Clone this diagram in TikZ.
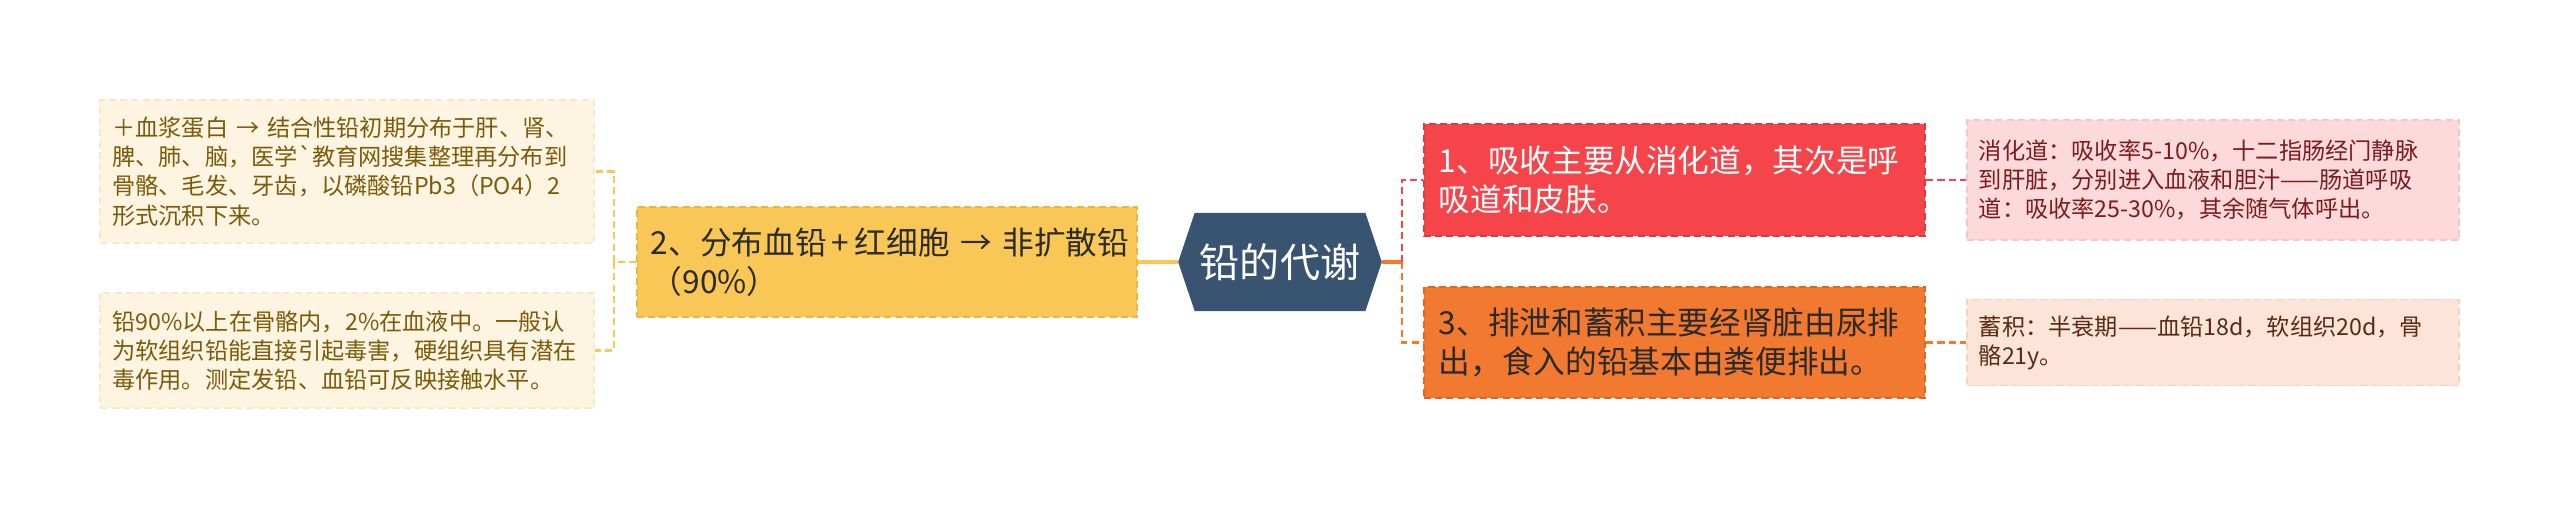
\documentclass[tikz,border=0pt]{standalone}
\usepackage{fontspec}
\setmainfont{Noto Sans CJK SC}
\usetikzlibrary{shapes.symbols}
\definecolor{pbnavy}{HTML}{395470}
\definecolor{pbyellow}{HTML}{F8C755}
\definecolor{pbyellowline}{HTML}{EDB53E}
\definecolor{pbcream}{HTML}{FDF5E1}
\definecolor{pbcreamline}{HTML}{F8E8C6}
\definecolor{pbbrown}{HTML}{7D5A0A}
\definecolor{pbred}{HTML}{F5444A}
\definecolor{pbredline}{HTML}{DD3A40}
\definecolor{pborange}{HTML}{F27930}
\definecolor{pborangeline}{HTML}{E0661F}
\definecolor{pbpink}{HTML}{FCDADB}
\definecolor{pbpinkline}{HTML}{F5C6C8}
\definecolor{pbpeach}{HTML}{FDE4D8}
\definecolor{pbpeachline}{HTML}{F8D2C0}
\definecolor{pbdarkred}{HTML}{7B1C1C}
\definecolor{pbdarkbrown}{HTML}{5A2B12}
\definecolor{pbink}{HTML}{2B2B2B}

\begin{document}
\begin{tikzpicture}[
        x=0.01cm, y=-0.01cm,
        every node/.style={font=\fontsize{6.6pt}{8.3pt}\selectfont},
        hub/.style={
          signal, signal to=west and east, signal pointer angle=143,
          fill=pbnavy, draw=pbnavy, text=white,
          minimum width=2.02cm, minimum height=0.97cm, inner sep=0pt,
          font=\fontsize{11.4pt}{13pt}\selectfont,
        },
        topic/.style={
          dashed, dash pattern=on 2pt off 1.2pt, line width=0.6pt,
          align=left, text width=4.72cm, inner xsep=0.14cm,
          font=\fontsize{9pt}{11.1pt}\selectfont,
        },
        leaf/.style={
          dashed, dash pattern=on 2pt off 1.2pt, line width=0.5pt,
          align=left, text width=4.69cm, inner xsep=0.12cm,
        },
        ylink/.style={draw=pbyellow, line width=0.6pt, dashed, dash pattern=on 2pt off 1.2pt},
        rlink/.style={draw=pbred, line width=0.6pt, dashed, dash pattern=on 2pt off 1.2pt},
        olink/.style={draw=pborange, line width=0.6pt, dashed, dash pattern=on 2pt off 1.2pt},
      ]
      \useasboundingbox (0,0) rectangle (2560,509);

      % centre
      \node[hub] (pb) at (1280,262) {铅的代谢};

      % left branch
      \node[topic, fill=pbyellow, draw=pbyellowline, text=pbink, minimum height=1.10cm]
        (dist) at (887,262) {2、分布血铅\,+\,红细胞~→~非扩散铅\\（90\%）};
      \node[leaf, fill=pbcream, draw=pbcreamline, text=pbbrown, minimum height=1.43cm]
        (bone) at (347,171.5) {＋血浆蛋白 → 结合性铅初期分布于肝、肾、\\脾、肺、脑，医学\textasciigrave 教育网搜集整理再分布到\\骨骼、毛发、牙齿，以磷酸铅Pb3（PO4）2\\形式沉积下来。};
      \node[leaf, fill=pbcream, draw=pbcreamline, text=pbbrown, minimum height=1.15cm]
        (soft) at (347,350.5) {铅90\%以上在骨骼内，2\%在血液中。一般认\\为软组织铅能直接引起毒害，硬组织具有潜在\\毒作用。测定发铅、血铅可反映接触水平。};

      % right branch
      \node[topic, fill=pbred, draw=pbredline, text=white, minimum height=1.12cm, inner xsep=0.15cm, text width=4.71cm]
        (absorb) at (1674.5,180) {1、吸收主要从消化道，其次是呼\\吸道和皮肤。};
      \node[topic, fill=pborange, draw=pborangeline, text=pbink, minimum height=1.11cm, inner xsep=0.15cm, text width=4.71cm]
        (excrete) at (1674.5,342.5) {3、排泄和蓄积主要经肾脏由尿排\\出，食入的铅基本由粪便排出。};
      \node[leaf, fill=pbpink, draw=pbpinkline, text=pbdarkred, minimum height=1.20cm, text width=4.68cm]
        (gut) at (2213,180) {消化道：吸收率5-10\%，十二指肠经门静脉\\到肝脏，分别进入血液和胆汁——肠道呼吸\\道：吸收率25-30\%，其余随气体呼出。};
      \node[leaf, fill=pbpeach, draw=pbpeachline, text=pbdarkbrown, minimum height=0.86cm, text width=4.68cm]
        (store) at (2213,342.5) {蓄积：半衰期——血铅18d，软组织20d，骨\\骼21y。};

      \coordinate (lj) at (614,262);
      \coordinate (rj) at (1402,262);

      \draw[draw=pbyellow, line width=0.9pt] (pb.west) -- (dist.east);
      \draw[ylink] (dist.west) -- (lj);
      \draw[ylink] (lj) |- (bone.east);
      \draw[ylink] (lj) |- (soft.east);

      \draw[draw=pborange, line width=0.9pt] (pb.east) -- (rj);
      \draw[rlink] (rj) |- (absorb.west);
      \draw[olink] (rj) |- (excrete.west);
      \draw[rlink] (absorb.east) -- (gut.west);
      \draw[olink] (excrete.east) -- (store.west);
    \end{tikzpicture}
\end{document}
